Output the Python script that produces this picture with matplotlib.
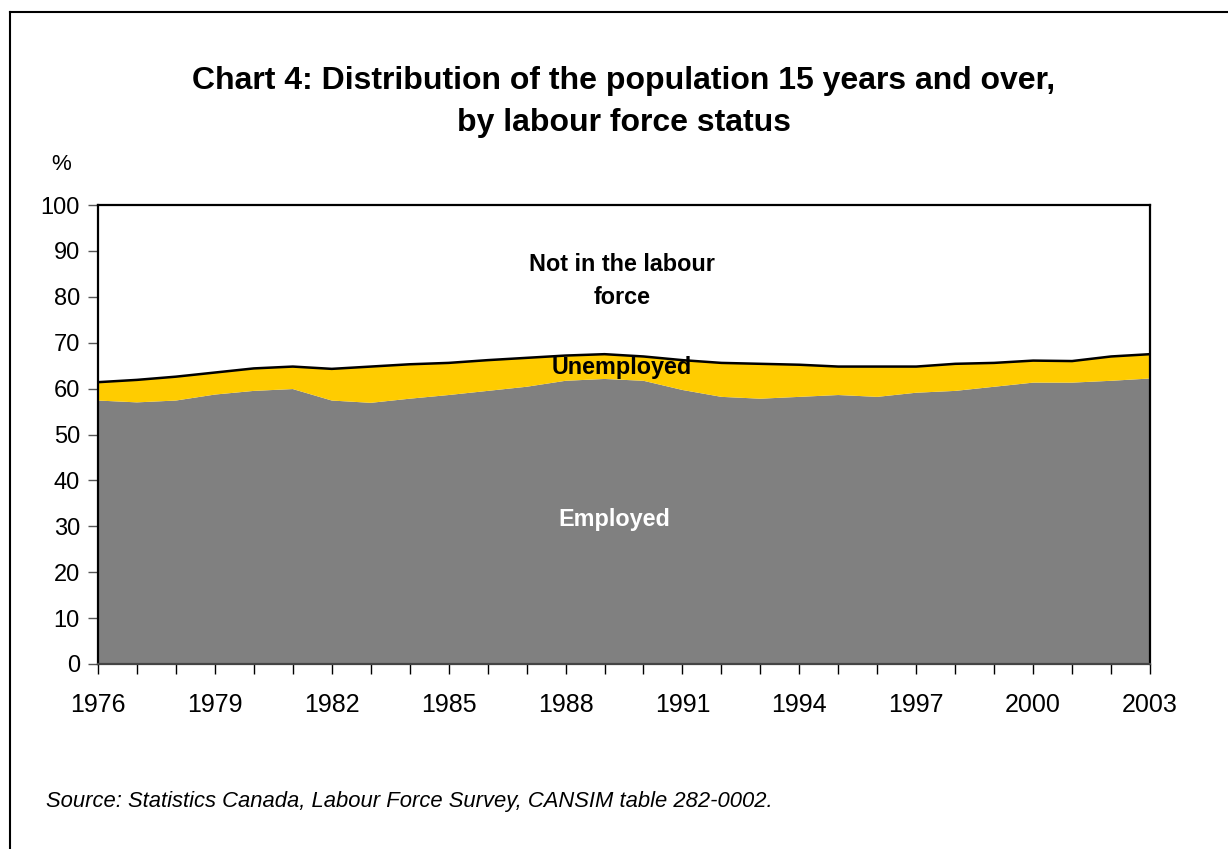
import matplotlib.pyplot as plt
import numpy as np
from matplotlib.lines import Line2D

plt.rcParams['font.family'] = ['Liberation Sans', 'DejaVu Sans']

years = list(range(1976, 2004))
# employment rate and participation rate, % of population 15+
employed = [57.4, 57.0, 57.4, 58.7, 59.5, 59.9, 57.4, 56.9, 57.8, 58.6,
            59.5, 60.4, 61.7, 62.1, 61.7, 59.7, 58.2, 57.8, 58.2, 58.6,
            58.2, 59.1, 59.5, 60.4, 61.3, 61.3, 61.7, 62.2]
participation = [61.4, 61.9, 62.6, 63.5, 64.4, 64.8, 64.3, 64.8, 65.3, 65.6,
                 66.2, 66.7, 67.2, 67.5, 67.0, 66.2, 65.6, 65.4, 65.2, 64.8,
                 64.8, 64.8, 65.4, 65.6, 66.1, 66.0, 67.0, 67.5]
unemployed = [p - e for p, e in zip(participation, employed)]

fig = plt.figure(figsize=(12.28, 8.49), dpi=100)
ax = fig.add_axes([98 / 1228, 1 - 664 / 849, 1052 / 1228, 459 / 849])

ax.stackplot(years, employed, unemployed, colors=['#808080', '#FFCC00'],
             linewidth=0)
ax.plot(years, participation, color='black', linewidth=1.8)

ax.set_xlim(1976, 2003)
ax.set_ylim(0, 100)
ax.set_yticks(np.arange(0, 101, 10))
ax.set_xticks(years, minor=True)
ax.set_xticks(range(1976, 2004, 3))
ax.tick_params(axis='y', labelsize=17, length=7, width=1, color='#555555', pad=6)
ax.tick_params(axis='x', which='both', length=7, width=1, direction='out',
               labelsize=18, pad=14)
ax.tick_params(axis='x', which='minor', labelbottom=False)
for side in ['top', 'right']:
    ax.spines[side].set_linewidth(1.6)
    ax.spines[side].set_color('black')
ax.spines['left'].set_linewidth(1.6)
ax.spines['bottom'].set_linewidth(1.6)
ax.spines['bottom'].set_color('#444444')

ax.text(1989.45, 83.4, 'Not in the labour\nforce', ha='center', va='center',
        fontsize=16.8, fontweight='bold', linespacing=1.55)
ax.text(1989.45, 64.7, 'Unemployed', ha='center', va='center',
        fontsize=16.8, fontweight='bold')
ax.text(1989.25, 31.4, 'Employed', ha='center', va='center',
        fontsize=16.8, fontweight='bold', color='white')

fig.text(61 / 1228, 1 - 165 / 849, '%', ha='center', va='center', fontsize=16)
fig.text(624 / 1228, 1 - 102 / 849,
         'Chart 4: Distribution of the population 15 years and over,\nby labour force status',
         ha='center', va='center', fontsize=23, fontweight='bold', linespacing=1.52)
fig.text(46 / 1228, 1 - 802 / 849,
         'Source: Statistics Canada, Labour Force Survey, CANSIM table 282-0002.',
         ha='left', va='center', fontsize=15.8, style='italic')

# page frame along the top and left edges
fig.add_artist(Line2D([10 / 1228, 1], [1 - 12 / 849, 1 - 12 / 849],
                      color='black', linewidth=1.5, transform=fig.transFigure))
fig.add_artist(Line2D([10 / 1228, 10 / 1228], [0, 1 - 12 / 849],
                      color='black', linewidth=1.5, transform=fig.transFigure))

fig.savefig('out.png', dpi=100)
